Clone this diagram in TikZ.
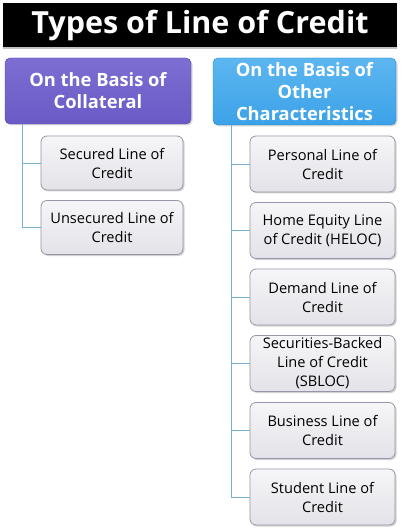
\documentclass[tikz,border=0pt]{standalone}
\usepackage{fontspec}
\setmainfont{Open Sans}
\usetikzlibrary{shadows}
\definecolor{hpurple}{RGB}{106,90,198}
\definecolor{hpurpleT}{RGB}{124,110,210}
\definecolor{hpurpleB}{RGB}{82,70,165}
\definecolor{hblue}{RGB}{60,162,232}
\definecolor{hblueT}{RGB}{92,182,240}
\definecolor{hblueB}{RGB}{40,128,200}
\definecolor{cTop}{RGB}{246,246,248}
\definecolor{cBot}{RGB}{226,226,232}
\definecolor{cBorder}{RGB}{150,150,170}
\definecolor{conncol}{RGB}{118,176,216}
\begin{document}
\begin{tikzpicture}[x=1pt,y=-1pt,
  titlebox/.style={fill=black, text=white, minimum width=394pt, minimum height=44pt, inner sep=0pt,
    font=\bfseries\fontsize{30.5}{33}\selectfont,
    drop shadow={shadow xshift=0pt, shadow yshift=-2pt, fill=black!40, opacity=.6}},
  headbox/.style={rounded corners=5pt, text=white, align=center, inner sep=0pt,
    font=\bfseries\fontsize{18.3}{22}\selectfont,
    drop shadow={shadow xshift=1.5pt, shadow yshift=-1.5pt, fill=black!30, opacity=.5}},
  childbox/.style={draw=cBorder, line width=0.8pt, rounded corners=6pt, top color=cTop, bottom color=cBot,
    align=center, inner sep=0pt, text=black, font=\fontsize{14.6}{19}\selectfont,
    drop shadow={shadow xshift=1.5pt, shadow yshift=-1.5pt, fill=black!35, opacity=.5}},
  conn/.style={draw=conncol, line width=0.9pt}
]
\useasboundingbox (0,0) rectangle (400,529);
\fill[white] (0,0) rectangle (400,529);

\node[titlebox] (title) at (200,25) {Types of Line of Credit};

\node[headbox, draw=hpurpleB, top color=hpurpleT, bottom color=hpurple,
      minimum width=186pt, minimum height=66pt] (lh) at (98,91) {On the Basis of\\Collateral};
\node[headbox, draw=hblueB, top color=hblueT, bottom color=hblue,
      minimum width=183pt, minimum height=67pt] (rh) at (304.5,91.5) {On the Basis of\\Other\\Characteristics};

\node[childbox, minimum width=142pt, minimum height=54pt] (l1) at (112,163) {Secured Line of\\Credit};
\node[childbox, minimum width=142pt, minimum height=54pt] (l2) at (112,227.5) {Unsecured Line of\\Credit};

\node[childbox, minimum width=145pt, minimum height=56pt] (r1) at (322.5,164) {Personal Line of\\Credit};
\node[childbox, minimum width=145pt, minimum height=56pt] (r2) at (322.5,230.5) {Home Equity Line\\of Credit (HELOC)};
\node[childbox, minimum width=145pt, minimum height=56pt] (r3) at (322.5,297) {Demand Line of\\Credit};
\node[childbox, minimum width=145pt, minimum height=56pt] (r4) at (322.5,363.5) {Securities-Backed\\Line of Credit\\(SBLOC)};
\node[childbox, minimum width=145pt, minimum height=56pt] (r5) at (322.5,430.5) {Business Line of\\Credit};
\node[childbox, minimum width=145pt, minimum height=56pt] (r6) at (322.5,497) {Student Line of\\Credit};

\foreach \c in {l1,l2} \draw[conn] ([xshift=18pt]lh.south west) |- (\c.west);
\foreach \c in {r1,r2,r3,r4,r5,r6} \draw[conn] ([xshift=19pt]rh.south west) |- (\c.west);
\end{tikzpicture}
\end{document}
